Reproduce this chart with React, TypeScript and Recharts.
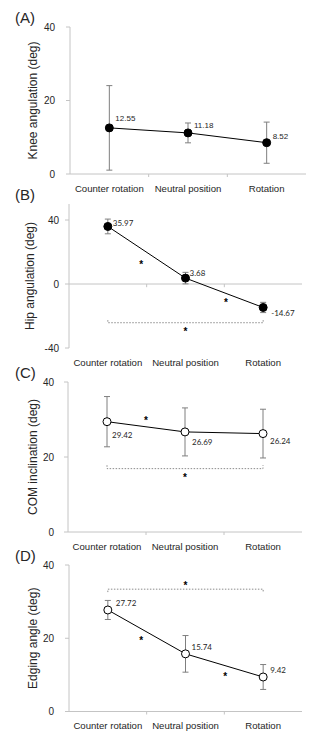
import React from "react";
import {
  ComposedChart,
  Line,
  ErrorBar,
  XAxis,
  YAxis,
  ReferenceLine,
  Scatter,
  LabelList,
} from "recharts";

const categories = ["Counter rotation", "Neutral position", "Rotation"];

const kneeMean = [12.55, 11.18, 8.52];
const kneeSd = [11.5, 2.7, 5.6];
const hipMean = [35.97, 3.68, -14.67];
const hipSd = [4.6, 3.6, 3.2];
const comMean = [29.42, 26.69, 26.24];
const comSd = [6.7, 6.4, 6.5];
const edgeMean = [27.72, 15.74, 9.42];
const edgeSd = [2.6, 5.0, 3.4];

const posTicks = [0, 20, 40];
const hipTicks = [-40, 0, 40];

// significance stars (x between categories, y in deg)
const hipStars = [
  { x: 0.93, y: 13.6 },
  { x: 2.02, y: -10 },
  { x: 1.5, y: -28.7 },
];
const comStars = [
  { x: 1.0, y: 30.4 },
  { x: 1.5, y: 15.1 },
];
const edgeStars = [
  { x: 0.93, y: 20 },
  { x: 2.01, y: 10 },
  { x: 1.5, y: 35 },
];
// brackets: [tip, bar]
const hipBracket = [-22.6, -24.2];
const comBracket = [17.8, 16.9];
const edgeBracket = [32.6, 33.4];

const AXIS = "#c4c4c4";
const TEXT = "#262626";
const FONT = "'Liberation Sans', Arial, sans-serif";

type Plot = { top: number; bottom: number; left: number; right: number };

interface PanelProps {
  letter: string;
  title: string;
  titleX: number;
  mean: number[];
  sd: number[];
  domain: [number, number];
  ticks: number[];
  hollow?: boolean;
  stars?: { x: number; y: number }[];
  bracket?: number[];
  plot: Plot;
  dx: number[];
  dy: number[];
  labelFont: string;
  zeroAxis?: boolean;
  yTickMargin: number;
}

function StarShape(p: any) {
  return (
    <text
      x={p.cx}
      y={p.cy + 5.5}
      textAnchor="middle"
      fontSize={10}
      fontWeight="bold"
      fontFamily={FONT}
      fill="#000"
    >
      *
    </text>
  );
}

function Panel(props: PanelProps) {
  const { plot } = props;
  const data = categories.map((c, i) => ({
    x: i + 0.5,
    name: c,
    mean: props.mean[i],
    sd: props.sd[i],
  }));
  const bracketData = props.bracket
    ? [
        { x: 0.5, y: props.bracket[0] },
        { x: 0.5, y: props.bracket[1] },
        { x: 2.5, y: props.bracket[1] },
        { x: 2.5, y: props.bracket[0] },
      ]
    : [];
  const padTop = 8;
  const height = plot.bottom - plot.top + padTop + 26;

  const XTick = (p: any) => {
    const v = p.payload.value;
    if (Number.isInteger(v)) {
      if (props.zeroAxis) return <g />;
      return <line x1={p.x} x2={p.x} y1={p.y} y2={p.y + 3} stroke={AXIS} />;
    }
    return (
      <text
        x={p.x}
        y={p.y + 14}
        textAnchor="middle"
        dominantBaseline="central"
        fontSize={9.6}
        fontFamily={FONT}
        fill={TEXT}
      >
        {categories[Math.floor(v)]}
      </text>
    );
  };

  const ValueLabel = (p: any) => {
    const i = p.index;
    return (
      <text
        x={p.x + props.dx[i]}
        y={p.y + props.dy[i]}
        dominantBaseline="central"
        fontSize={8}
        fontFamily={props.labelFont}
        fill={TEXT}
      >
        {p.value}
      </text>
    );
  };

  const Title = (p: any) => {
    const vb = p.viewBox;
    const cy = vb.y + vb.height / 2;
    return (
      <text
        x={props.titleX}
        y={cy}
        transform={`rotate(-90, ${props.titleX}, ${cy})`}
        textAnchor="middle"
        dominantBaseline="central"
        fontSize={12}
        fontFamily={FONT}
        fill={TEXT}
      >
        {props.title}
      </text>
    );
  };

  return (
    <>
      <div
        style={{
          position: "absolute",
          left: 15,
          top: plot.top - 18,
          fontSize: 15,
          fontFamily: FONT,
          color: TEXT,
          lineHeight: "18px",
        }}
      >
        {props.letter}
      </div>
      <div style={{ position: "absolute", left: 0, top: plot.top - padTop }}>
        <ComposedChart
          width={324}
          height={height}
          data={data}
          margin={{
            top: padTop,
            bottom: 6,
            left: plot.left - 40,
            right: 324 - plot.right,
          }}
        >
          <XAxis
            dataKey="x"
            type="number"
            domain={[0, 3]}
            ticks={[0.5, 1, 1.5, 2, 2.5]}
            interval={0}
            tick={<XTick />}
            tickLine={false}
            tickSize={0}
            tickMargin={0}
            height={20}
            axisLine={props.zeroAxis ? false : { stroke: AXIS }}
          />
          <YAxis
            type="number"
            domain={props.domain}
            ticks={props.ticks}
            allowDataOverflow
            width={40}
            tickSize={4}
            tickMargin={props.yTickMargin}
            tickLine={{ stroke: AXIS }}
            axisLine={{ stroke: AXIS }}
            tick={{ fontSize: 10, fontFamily: FONT, fill: TEXT }}
            label={<Title />}
          />
          {props.zeroAxis && <ReferenceLine y={0} stroke={AXIS} />}
          {props.zeroAxis &&
            [1, 2].map((s) => (
              <ReferenceLine
                key={s}
                segment={[
                  { x: s, y: 0 },
                  { x: s, y: -2 },
                ]}
                stroke={AXIS}
              />
            ))}
          {props.bracket && (
            <Line
              data={bracketData}
              dataKey="y"
              type="linear"
              stroke="#8c8c8c"
              strokeWidth={1}
              strokeDasharray="1.5 1.5"
              dot={false}
              activeDot={false}
              isAnimationActive={false}
            />
          )}
          <Line
            dataKey="mean"
            type="linear"
            stroke="#000"
            strokeWidth={1}
            dot={{
              r: 4,
              fill: props.hollow ? "#fff" : "#000",
              stroke: "#000",
              strokeWidth: 1,
            }}
            activeDot={false}
            isAnimationActive={false}
          >
            <ErrorBar
              dataKey="sd"
              direction="y"
              width={3}
              stroke="#7f7f7f"
              strokeWidth={1}
            />
            <LabelList dataKey="mean" content={<ValueLabel />} />
          </Line>
          {props.stars && (
            <Scatter
              data={props.stars}
              dataKey="y"
              shape={StarShape}
              isAnimationActive={false}
            />
          )}
        </ComposedChart>
      </div>
    </>
  );
}

export default function App() {
  return (
    <div
      style={{
        position: "absolute",
        left: 0,
        top: 0,
        width: 324,
        height: 741,
        background: "#fff",
        overflow: "hidden",
      }}
    >
      <Panel
        letter="(A)"
        title="Knee angulation (deg)"
        titleX={33}
        mean={kneeMean}
        sd={kneeSd}
        domain={[0, 40]}
        ticks={posTicks}
        plot={{ top: 27, bottom: 174, left: 70, right: 306 }}
        dx={[6, 6, 6]}
        dy={[-9, -7, -6]}
        labelFont={FONT}
        yTickMargin={11}
      />
      <Panel
        letter="(B)"
        title="Hip angulation (deg)"
        titleX={30}
        mean={hipMean}
        sd={hipSd}
        domain={[-40, 50]}
        ticks={hipTicks}
        plot={{ top: 204, bottom: 348, left: 69, right: 302 }}
        dx={[5, 4, 8]}
        dy={[-3.5, -5, 6]}
        labelFont="Lato, 'Open Sans', sans-serif"
        stars={hipStars}
        bracket={hipBracket}
        zeroAxis
        yTickMargin={6}
      />
      <Panel
        letter="(C)"
        title="COM inclination (deg)"
        titleX={33}
        mean={comMean}
        sd={comSd}
        domain={[0, 40]}
        ticks={posTicks}
        hollow
        plot={{ top: 382, bottom: 532, left: 68, right: 302 }}
        dx={[5, 7, 7]}
        dy={[13, 10, 7]}
        labelFont="Lato, 'Open Sans', sans-serif"
        stars={comStars}
        bracket={comBracket}
        yTickMargin={10}
      />
      <Panel
        letter="(D)"
        title="Edging angle (deg)"
        titleX={33}
        mean={edgeMean}
        sd={edgeSd}
        domain={[0, 40]}
        ticks={posTicks}
        hollow
        plot={{ top: 565, bottom: 711.5, left: 69, right: 302 }}
        dx={[8, 6, 7]}
        dy={[-7, -7, -7]}
        labelFont="Lato, 'Open Sans', sans-serif"
        stars={edgeStars}
        bracket={edgeBracket}
        yTickMargin={11}
      />
    </div>
  );
}
